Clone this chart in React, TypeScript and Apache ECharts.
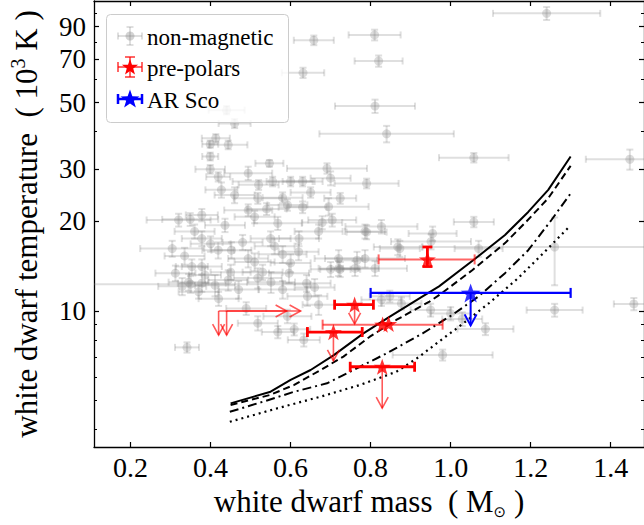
import React, { useEffect, useRef } from "react";
import * as echarts from "echarts";

// ---------- axis limits & ticks ----------
const X_MIN = 0.1085;
const X_MAX = 1.4834;
const T_MIN = 3.497;
const T_MAX = 109.7;
const xTicks = [0.2, 0.4, 0.6, 0.8, 1.0, 1.2, 1.4];
const tMajorTicks = [10, 20, 30, 50, 70, 90];
const tMinorTicks = [4, 5, 6, 7, 8, 9, 40, 60, 80, 100];

// ---------- non-magnetic white dwarfs ----------
const nmMass = [
  1.24, 0.81, 0.82, 0.658, 0.631, 0.811, 0.44, 0.46, 0.84, 0.413,
  0.399, 0.444, 0.399, 0.399, 0.547, 1.058, 1.448, 0.419, 0.494, 0.555,
  0.427, 0.46, 0.518, 0.494, 0.378, 0.349, 0.32, 0.436, 0.51, 0.568,
  0.592, 0.691, 0.6, 0.63, 0.7, 0.79, 0.724, 0.695, 0.63, 0.704,
  0.679, 0.827, 0.955, 1.058, 0.951, 0.79, 0.868, 1.07, 1.26, 0.67,
  0.786, 0.621, 0.873, 0.72, 0.766, 0.786, 0.72, 0.761, 0.811, 0.596,
  0.642, 0.67, 0.378, 0.304, 0.419, 0.452, 0.494, 0.353, 0.378, 0.312,
  0.386, 0.345, 0.378, 0.411, 0.35, 0.329, 0.444, 0.518, 0.51, 0.551,
  0.489, 0.518, 0.568, 0.592, 0.341, 0.609, 0.633, 1.26, 1.458, 1.087,
  0.98, 1.0, 0.95, 0.877, 0.827, 0.848, 0.7, 0.724, 1.029, 0.56,
  0.58, 0.6, 0.55, 0.53, 0.64, 0.66, 0.47, 0.42, 0.37, 0.58,
  0.62, 0.45, 0.48, 0.4, 0.36, 0.335, 0.54, 0.58, 0.52, 0.65,
];
const nmMassErr = [
  0.134, 0.065, 0.06, 0.05, 0.053, 0.1, 0.045, 0.04, 0.168, 0.035,
  0.02, 0.048, 0.02, 0.037, 0.035, 0.087, 0.11, 0.03, 0.06, 0.1,
  0.04, 0.05, 0.06, 0.06, 0.04, 0.07, 0.08, 0.05, 0.05, 0.06,
  0.05, 0.1, 0.06, 0.05, 0.05, 0.08, 0.04, 0.1, 0.06, 0.06,
  0.05, 0.09, 0.06, 0.05, 0.1, 0.05, 0.06, 0.06, 0.33, 0.06,
  0.05, 0.05, 0.05, 0.06, 0.05, 0.1, 0.05, 0.06, 0.08, 0.05,
  0.05, 0.04, 0.05, 0.08, 0.04, 0.05, 0.05, 0.04, 0.05, 0.05,
  0.04, 0.05, 0.06, 0.05, 0.3, 0.06, 0.05, 0.06, 0.05, 0.06,
  0.05, 0.05, 0.04, 0.06, 0.03, 0.04, 0.04, 0.07, 0.05, 0.07,
  0.125, 0.05, 0.05, 0.05, 0.05, 0.05, 0.05, 0.05, 0.05, 0.05,
  0.06, 0.05, 0.05, 0.05, 0.06, 0.05, 0.05, 0.05, 0.05, 0.06,
  0.05, 0.05, 0.05, 0.05, 0.05, 0.05, 0.05, 0.05, 0.05, 0.05,
];
const nmTemp = [
  99.7, 84.4, 69, 81, 63, 48.7, 47.2, 42.6, 39.3, 38.0,
  36.3, 36.1, 33.0, 29.9, 31.3, 32.7, 32.3, 28.2, 29.0, 27.2,
  25.5, 24.5, 23.9, 21.8, 21.0, 20.3, 20.2, 19.4, 20.7, 19.7,
  22.7, 30.1, 27.2, 27.2, 27.9, 26.8, 23.9, 22.4, 22.3, 20.2,
  19.8, 19.2, 18.2, 19.9, 17.1, 18.4, 16.4, 16.2, 16.4, 18.5,
  18.5, 17.5, 16.2, 15.0, 14.8, 15.0, 13.9, 13.9, 13.9, 13.4,
  11.2, 10.5, 17.5, 16.2, 16.0, 16.0, 15.0, 14.1, 14.1, 13.4,
  13.2, 12.5, 12.4, 12.2, 12.3, 12.1, 12.7, 12.9, 14.6, 12.5,
  10.2, 9.1, 8.5, 9.6, 7.55, 8.68, 8.0, 10.07, 10.56, 8.7,
  7.12, 9.8, 10.08, 10.6, 10.9, 11.2, 13.8, 13.8, 9.4, 16.5,
  15.5, 14.5, 17.5, 13.5, 12.4, 12.0, 11.8, 11.0, 11.6, 11.8,
  15.8, 13.5, 17.0, 16.8, 18.5, 15.3, 22.0, 24.0, 26.5, 25.0,
];
const nmTempErr = [
  5, 3.5, 3, 3, 2.5, 2.5, 1.5, 1.5, 2.5, 1.2,
  1, 1.2, 1, 1, 0.8, 1.2, 2.5, 1, 1.5, 1,
  1.5, 1.5, 1, 1, 1, 1, 1, 1, 1, 1,
  1, 1.2, 1, 1, 1.5, 1, 1, 1.5, 1, 1,
  1, 1, 1, 0.8, 1, 1, 1, 1, 4.2, 1,
  1, 1, 1, 1, 1, 1, 0.8, 0.8, 0.8, 1,
  0.8, 0.8, 1, 1, 1, 1, 1, 0.8, 0.8, 0.8,
  0.8, 0.8, 0.8, 1, 0.8, 0.8, 1, 1, 1, 1,
  0.5, 0.5, 0.4, 0.5, 0.3, 0.4, 0.4, 0.5, 0.5, 0.4,
  0.3, 0.5, 0.5, 0.5, 0.5, 0.5, 0.8, 0.8, 0.5, 1,
  1, 1, 1, 0.8, 0.8, 0.8, 0.8, 0.6, 0.6, 0.8,
  1, 0.8, 1, 1, 1, 1, 1, 1, 1, 1,
];

// ---------- pre-polars ----------
const ppMass = [0.942, 0.76, 0.83, 0.845, 0.707, 0.829];
const ppTemp = [14.9, 10.5, 9.0, 9.05, 8.5, 6.5];
// strong horizontal error bars
const ppStrongBarIdx = [1, 4, 5];
const ppStrongMassLo = [0.71, 0.642, 0.749];
const ppStrongMassHi = [0.807, 0.779, 0.91];
// faint horizontal error bars
const ppFaintBarIdx = [0, 2];
const ppFaintMassLo = [0.82, 0.68];
const ppFaintMassHi = [1.06, 0.98];
// vertical error bar
const ppYBarIdx = [0];
const ppTempLo = [14.1];
const ppTempHi = [16.4];
// temperature upper limits (arrow tips)
const ppUpperIdx = [1, 4, 5];
const ppUpperTip = [9.05, 6.8, 4.72];
// limit-only objects
const limMass = [0.42, 0.44];
const limTemp = [10, 10];
const limMassTip = [0.59, 0.625];
const limTempTip = [8.3, 8.3];

// ---------- AR Sco ----------
const arMass = [1.05];
const arTemp = [11.5];
const arMassLo = [0.8];
const arMassHi = [1.3];
const arTempTip = [8.95];

// ---------- model curves ----------
const solidMass = [0.45, 0.55, 0.6, 0.65, 0.708, 0.782, 0.848, 0.93, 0.971, 1.062, 1.136, 1.194, 1.244, 1.3];
const solidTemp = [4.9, 5.36, 5.87, 6.34, 7.11, 8.41, 9.57, 11.2, 12.1, 15.0, 18.0, 21.5, 25.5, 33.0];
const dashedMass = [0.45, 0.547, 0.609, 0.675, 0.732, 0.798, 0.864, 0.947, 0.971, 1.054, 1.136, 1.19, 1.244, 1.3];
const dashedTemp = [4.84, 5.22, 5.65, 6.34, 7.03, 8.2, 9.33, 10.75, 11.3, 13.7, 16.9, 20.0, 23.9, 30.7];
const dashDotMass = [0.448, 0.543, 0.609, 0.691, 0.757, 0.84, 0.93, 1.004, 1.07, 1.136, 1.194, 1.252, 1.3];
const dashDotTemp = [4.59, 5.02, 5.36, 5.72, 6.34, 7.21, 8.41, 9.7, 11.2, 13.4, 16.0, 20.2, 24.8];
const dottedMass = [0.448, 0.568, 0.675, 0.774, 0.864, 0.92, 0.971, 1.021, 1.095, 1.169, 1.235, 1.297];
const dottedTemp = [4.25, 4.72, 5.16, 5.65, 6.25, 7.0, 7.9, 8.86, 10.6, 12.9, 15.8, 19.2];

const legendLabels = ["non-magnetic", "pre-polars", "AR Sco"];

// ---------- helpers ----------
const FONT = "'Liberation Serif', 'Times New Roman', serif";
const lg = (v: number) => Math.log10(v);
const GRAY_BAR = "rgba(128,128,128,0.25)";
const GRAY_MARK = "rgba(128,128,128,0.35)";
const RED = "#ff0000";
const RED_FAINT = "rgba(255,0,0,0.6)";
const BLUE = "#0000ff";

function starPts(cx: number, cy: number, r: number): number[][] {
  const pts: number[][] = [];
  for (let i = 0; i < 10; i++) {
    const rr = i % 2 === 0 ? r : r * 0.4;
    const a = -Math.PI / 2 + (i * Math.PI) / 5;
    pts.push([cx + rr * Math.cos(a), cy + rr * Math.sin(a)]);
  }
  return pts;
}
const STAR_PATH =
  "path://M" +
  starPts(0, 0, 1)
    .map((p) => p[0].toFixed(4) + " " + p[1].toFixed(4))
    .join(" L") +
  " Z";

function hBarRender(color: string, width: number, cap: number) {
  return (params: any, api: any) => {
    const y = api.value(1);
    const a = api.coord([api.value(2), y]);
    const b = api.coord([api.value(3), y]);
    const style = { stroke: color, lineWidth: width, fill: "none" };
    return {
      type: "group",
      children: [
        { type: "line", shape: { x1: a[0], y1: a[1], x2: b[0], y2: b[1] }, style },
        { type: "line", shape: { x1: a[0], y1: a[1] - cap, x2: a[0], y2: a[1] + cap }, style },
        { type: "line", shape: { x1: b[0], y1: b[1] - cap, x2: b[0], y2: b[1] + cap }, style },
      ],
    };
  };
}
function vBarRender(color: string, width: number, cap: number) {
  return (params: any, api: any) => {
    const x = api.value(0);
    const a = api.coord([x, api.value(2)]);
    const b = api.coord([x, api.value(3)]);
    const style = { stroke: color, lineWidth: width, fill: "none" };
    return {
      type: "group",
      children: [
        { type: "line", shape: { x1: a[0], y1: a[1], x2: b[0], y2: b[1] }, style },
        { type: "line", shape: { x1: a[0] - cap, y1: a[1], x2: a[0] + cap, y2: a[1] }, style },
        { type: "line", shape: { x1: b[0] - cap, y1: b[1], x2: b[0] + cap, y2: b[1] }, style },
      ],
    };
  };
}
function grayErrRender(params: any, api: any) {
  const m = api.value(0);
  const t = api.value(1);
  const style = { stroke: GRAY_BAR, lineWidth: 2, fill: "none" };
  const a = api.coord([api.value(2), t]);
  const b = api.coord([api.value(3), t]);
  const c = api.coord([m, api.value(4)]);
  const d = api.coord([m, api.value(5)]);
  const cap = 3.5;
  return {
    type: "group",
    children: [
      { type: "line", shape: { x1: a[0], y1: a[1], x2: b[0], y2: b[1] }, style },
      { type: "line", shape: { x1: a[0], y1: a[1] - cap, x2: a[0], y2: a[1] + cap }, style },
      { type: "line", shape: { x1: b[0], y1: b[1] - cap, x2: b[0], y2: b[1] + cap }, style },
      { type: "line", shape: { x1: c[0], y1: c[1], x2: d[0], y2: d[1] }, style },
      { type: "line", shape: { x1: c[0] - cap, y1: c[1], x2: c[0] + cap, y2: c[1] }, style },
      { type: "line", shape: { x1: d[0] - cap, y1: d[1], x2: d[0] + cap, y2: d[1] }, style },
    ],
  };
}
function arrowRender(color: string, width: number) {
  return (params: any, api: any) => {
    const p0 = api.coord([api.value(0), api.value(1)]);
    const p1 = api.coord([api.value(2), api.value(3)]);
    const dx = p1[0] - p0[0];
    const dy = p1[1] - p0[1];
    const len = Math.sqrt(dx * dx + dy * dy) || 1;
    const ux = dx / len;
    const uy = dy / len;
    const L = 11;
    const W = 6;
    const style = { stroke: color, lineWidth: width, fill: "none" };
    return {
      type: "group",
      children: [
        { type: "line", shape: { x1: p0[0], y1: p0[1], x2: p1[0], y2: p1[1] }, style },
        {
          type: "polyline",
          shape: {
            points: [
              [p1[0] - ux * L - uy * W, p1[1] - uy * L + ux * W],
              [p1[0], p1[1]],
              [p1[0] - ux * L + uy * W, p1[1] - uy * L - ux * W],
            ],
          },
          style,
        },
      ],
    };
  };
}

const axisLineStyle = { color: "#000", width: 1.3 };
const tickLine = { color: "#000", width: 1.2 };

export default function App() {
  const ref = useRef<HTMLDivElement>(null);
  useEffect(() => {
    const chart = echarts.init(ref.current!, null, { renderer: "svg" });

    const grayErrData = nmMass.map((m, i) => [
      m,
      lg(nmTemp[i]),
      m - nmMassErr[i],
      m + nmMassErr[i],
      lg(nmTemp[i] - nmTempErr[i]),
      lg(nmTemp[i] + nmTempErr[i]),
    ]);
    const grayPts = nmMass.map((m, i) => [m, lg(nmTemp[i])]);
    const curve = (ms: number[], ts: number[]) => ms.map((m, i) => [m, lg(ts[i])]);

    const ppStrong = ppStrongBarIdx.map((k, i) => [ppMass[k], lg(ppTemp[k]), ppStrongMassLo[i], ppStrongMassHi[i]]);
    const ppFaint = ppFaintBarIdx.map((k, i) => [ppMass[k], lg(ppTemp[k]), ppFaintMassLo[i], ppFaintMassHi[i]]);
    const ppY = ppYBarIdx.map((k, i) => [ppMass[k], lg(ppTemp[k]), lg(ppTempLo[i]), lg(ppTempHi[i])]);
    const ppArrows = ppUpperIdx.map((k, i) => [ppMass[k], lg(ppTemp[k]), ppMass[k], lg(ppUpperTip[i])]);
    const limArrows: number[][] = [];
    limMass.forEach((m, i) => {
      limArrows.push([m, lg(limTemp[i]), limMassTip[i], lg(limTemp[i])]);
      limArrows.push([m, lg(limTemp[i]), m, lg(limTempTip[i])]);
    });
    const arBar = arMass.map((m, i) => [m, lg(arTemp[i]), arMassLo[i], arMassHi[i]]);
    const arArrow = arMass.map((m, i) => [m, lg(arTemp[i]), m, lg(arTempTip[i])]);

    const xBase: any = {
      type: "value",
      min: X_MIN,
      max: X_MAX,
      splitLine: { show: false },
      axisLine: { show: true, onZero: false, lineStyle: axisLineStyle },
      axisTick: { show: true, inside: true, length: 5, customValues: xTicks, lineStyle: tickLine },
    };
    const yBase: any = {
      type: "value",
      min: lg(T_MIN),
      max: lg(T_MAX),
      splitLine: { show: false },
      axisLine: { show: true, onZero: false, lineStyle: axisLineStyle },
    };
    const majorTick = { show: true, inside: true, length: 5, customValues: tMajorTicks.map(lg), lineStyle: tickLine };
    const minorTick = { show: true, inside: true, length: 3, customValues: tMinorTicks.map(lg), lineStyle: { color: "#000", width: 1 } };

    const legendGraphics: any[] = [
      {
        type: "rect",
        z: 100,
        shape: { x: 106.5, y: 14.5, width: 182, height: 108, r: 4 },
        style: { fill: "rgba(255,255,255,0.8)", stroke: "#cccccc", lineWidth: 1 },
      },
    ];
    const rows = [36, 67, 99];
    const gx = 130;
    const addBars = (cy: number, color: string, w: number, cap: number, vHalf: number) => {
      const st = { stroke: color, lineWidth: w, fill: "none" };
      legendGraphics.push(
        { type: "line", z: 101, shape: { x1: gx - 12, y1: cy, x2: gx + 12, y2: cy }, style: st },
        { type: "line", z: 101, shape: { x1: gx - 12, y1: cy - cap, x2: gx - 12, y2: cy + cap }, style: st },
        { type: "line", z: 101, shape: { x1: gx + 12, y1: cy - cap, x2: gx + 12, y2: cy + cap }, style: st }
      );
      if (vHalf > 0) {
        legendGraphics.push(
          { type: "line", z: 101, shape: { x1: gx, y1: cy - vHalf, x2: gx, y2: cy + vHalf }, style: st },
          { type: "line", z: 101, shape: { x1: gx - cap, y1: cy - vHalf, x2: gx + cap, y2: cy - vHalf }, style: st },
          { type: "line", z: 101, shape: { x1: gx - cap, y1: cy + vHalf, x2: gx + cap, y2: cy + vHalf }, style: st }
        );
      }
    };
    addBars(rows[0], GRAY_BAR, 2, 3.5, 9);
    legendGraphics.push({ type: "circle", z: 102, shape: { cx: gx, cy: rows[0], r: 4.5 }, style: { fill: GRAY_MARK } });
    addBars(rows[1], RED_FAINT, 2, 5, 10);
    legendGraphics.push({ type: "polygon", z: 102, shape: { points: starPts(gx, rows[1] + 0.5, 8.5) }, style: { fill: RED } });
    addBars(rows[2], BLUE, 2.5, 5, 0);
    legendGraphics.push({ type: "polygon", z: 102, shape: { points: starPts(gx, rows[2] + 0.5, 10) }, style: { fill: BLUE } });
    legendLabels.forEach((t, i) => {
      legendGraphics.push({
        type: "text",
        z: 103,
        x: 147,
        y: rows[i] + 1,
        style: { text: t, font: `23px ${FONT}`, fill: "#000", verticalAlign: "middle" },
      });
    });

    const option: any = {
      animation: false,
      backgroundColor: "#ffffff",
      textStyle: { fontFamily: FONT },
      grid: { left: 91, right: -3, top: 1, bottom: 78, containLabel: false },
      xAxis: [
        {
          ...xBase,
          position: "bottom",
          axisLabel: {
            customValues: xTicks,
            formatter: (v: number) => v.toFixed(1),
            fontFamily: FONT,
            fontSize: 28,
            color: "#000",
            margin: 6,
          },
          name: "{a|white dwarf mass  ( M}{s|\u2299}{a| )}",
          nameLocation: "middle",
          nameGap: 34,
          nameTextStyle: {
            rich: {
              a: { fontFamily: FONT, fontSize: 31, color: "#000", lineHeight: 36 },
              s: { fontFamily: "'DejaVu Sans'", fontSize: 15, color: "#000", lineHeight: 20, verticalAlign: "bottom" },
            },
          },
        },
        { ...xBase, position: "top", axisLabel: { show: false } },
      ],
      yAxis: [
        {
          ...yBase,
          position: "left",
          axisTick: majorTick,
          axisLabel: {
            customValues: tMajorTicks.map(lg),
            formatter: (v: number) => String(Math.round(Math.pow(10, v))),
            fontFamily: FONT,
            fontSize: 27,
            color: "#000",
            margin: 8,
          },
          name: "{a|white dwarf temperature  ( 10}{s|3}{a| K )}",
          nameLocation: "middle",
          nameGap: 50,
          nameTextStyle: {
            rich: {
              a: { fontFamily: FONT, fontSize: 31, color: "#000", lineHeight: 36 },
              s: { fontFamily: FONT, fontSize: 20, color: "#000", lineHeight: 24, verticalAlign: "top" },
            },
          },
        },
        { ...yBase, position: "left", axisLine: { show: false }, axisTick: minorTick, axisLabel: { show: false } },
        { ...yBase, position: "right", axisTick: majorTick, axisLabel: { show: false } },
        { ...yBase, position: "right", axisLine: { show: false }, axisTick: minorTick, axisLabel: { show: false } },
      ],
      series: [
        {
          type: "custom",
          name: "non-magnetic errors",
          renderItem: grayErrRender,
          data: grayErrData,
          encode: { x: 0, y: 1 },
          clip: true,
          silent: true,
          z: 1,
        },
        {
          type: "scatter",
          name: "non-magnetic",
          data: grayPts,
          symbol: "circle",
          symbolSize: 9,
          itemStyle: { color: GRAY_MARK },
          clip: true,
          z: 2,
        },
        ...[
          { d: curve(solidMass, solidTemp), t: "solid" as any, w: 2 },
          { d: curve(dashedMass, dashedTemp), t: [7, 4], w: 2 },
          { d: curve(dashDotMass, dashDotTemp), t: [9, 4, 2, 4], w: 2 },
          { d: curve(dottedMass, dottedTemp), t: [2, 4], w: 2.2 },
        ].map((s, i) => ({
          type: "line",
          name: "model " + i,
          data: s.d,
          showSymbol: false,
          symbol: "none",
          lineStyle: { color: "#000", width: s.w, type: s.t, join: "round" },
          z: 3,
        })),
        {
          type: "custom",
          name: "pre-polars faint x",
          renderItem: hBarRender(RED_FAINT, 2, 5),
          data: ppFaint,
          encode: { x: 0, y: 1 },
          z: 4,
        },
        {
          type: "custom",
          name: "pre-polars arrows",
          renderItem: arrowRender("rgba(255,0,0,0.65)", 1.6),
          data: [...ppArrows, ...limArrows],
          encode: { x: 0, y: 1 },
          z: 4,
        },
        {
          type: "custom",
          name: "pre-polars x",
          renderItem: hBarRender(RED, 2.8, 5),
          data: ppStrong,
          encode: { x: 0, y: 1 },
          z: 5,
        },
        {
          type: "custom",
          name: "pre-polars y",
          renderItem: vBarRender(RED, 2.8, 5),
          data: ppY,
          encode: { x: 0, y: 1 },
          z: 5,
        },
        {
          type: "scatter",
          name: "pre-polars",
          data: ppMass.map((m, i) => [m, lg(ppTemp[i])]),
          symbol: STAR_PATH,
          symbolSize: 17,
          symbolKeepAspect: true,
          itemStyle: { color: RED },
          z: 6,
        },
        {
          type: "custom",
          name: "AR Sco x",
          renderItem: hBarRender(BLUE, 2.2, 5),
          data: arBar,
          encode: { x: 0, y: 1 },
          z: 6,
        },
        {
          type: "custom",
          name: "AR Sco arrow",
          renderItem: arrowRender(BLUE, 2),
          data: arArrow,
          encode: { x: 0, y: 1 },
          z: 6,
        },
        {
          type: "scatter",
          name: "AR Sco",
          data: arMass.map((m, i) => [m, lg(arTemp[i])]),
          symbol: STAR_PATH,
          symbolSize: 20,
          symbolKeepAspect: true,
          itemStyle: { color: BLUE },
          z: 7,
        },
      ],
      graphic: { elements: legendGraphics },
    };

    chart.setOption(option);
    return () => chart.dispose();
  }, []);
  return (
    <div
      ref={ref}
      style={{ position: "fixed", left: 0, top: 0, width: 644, height: 525, background: "#fff" }}
    />
  );
}
